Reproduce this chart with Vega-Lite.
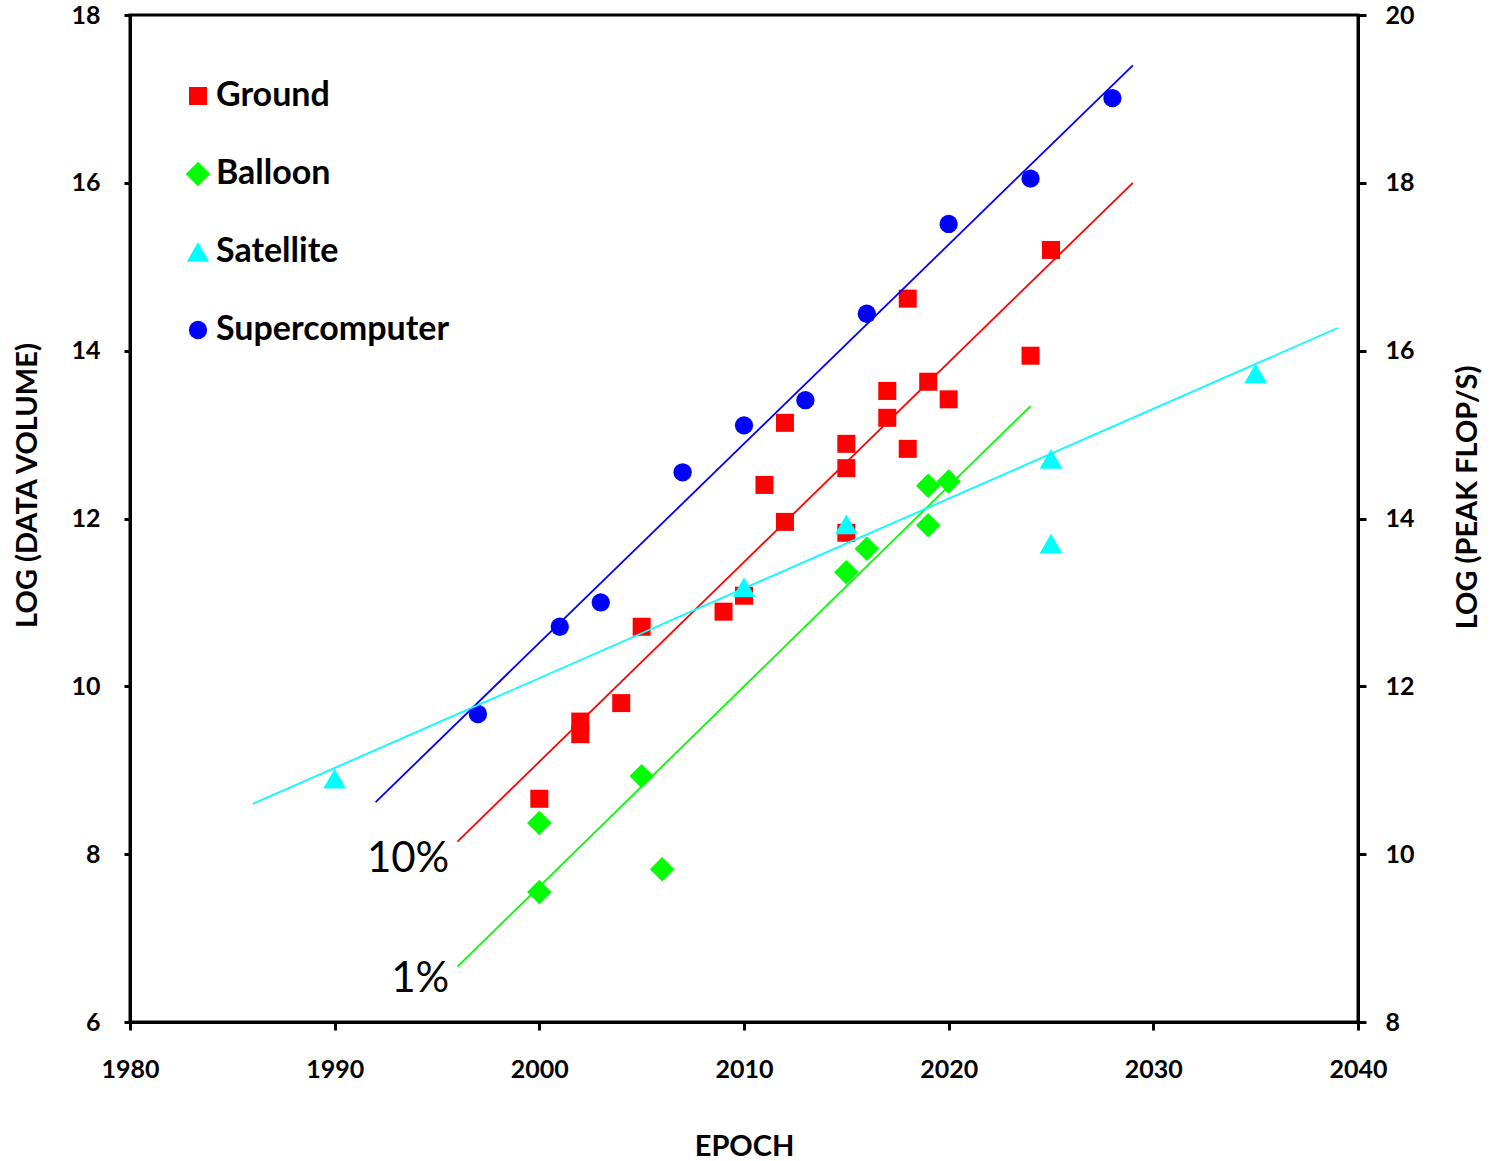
{
  "$schema": "https://vega.github.io/schema/vega-lite/v6.json",
  "autosize": {"type": "none"},
  "width": 1228,
  "height": 1007,
  "padding": {"left": 130, "top": 15, "right": 135, "bottom": 139},
  "background": "white",
  "config": {
    "font": "Lato",
    "view": {"stroke": "black", "strokeWidth": 3},
    "axis": {
      "grid": false,
      "domainColor": "black",
      "domainWidth": 3,
      "tickColor": "black",
      "tickWidth": 3,
      "labelColor": "black",
      "labelFont": "Lato",
      "labelFontWeight": "bold",
      "labelFontSize": 25,
      "labelFlush": false,
      "titleColor": "black",
      "titleFont": "Lato",
      "titleFontWeight": "bold",
      "titleFontSize": 29
    },
    "legend": {
      "labelFont": "Lato",
      "labelFontWeight": "bold",
      "labelFontSize": 34,
      "labelColor": "black",
      "labelLimit": 0
    }
  },
  "datasets": {
    "points": [
      {"series": "Supercomputer", "year": 1997, "value": 9.67},
      {"series": "Supercomputer", "year": 2001, "value": 10.71},
      {"series": "Supercomputer", "year": 2003, "value": 11.0},
      {"series": "Supercomputer", "year": 2007, "value": 12.55},
      {"series": "Supercomputer", "year": 2010, "value": 13.11},
      {"series": "Supercomputer", "year": 2013, "value": 13.41},
      {"series": "Supercomputer", "year": 2016, "value": 14.44},
      {"series": "Supercomputer", "year": 2020, "value": 15.51},
      {"series": "Supercomputer", "year": 2024, "value": 16.05},
      {"series": "Supercomputer", "year": 2028, "value": 17.01},
      {"series": "Ground", "year": 2000, "value": 8.66},
      {"series": "Ground", "year": 2002, "value": 9.58},
      {"series": "Ground", "year": 2002, "value": 9.43},
      {"series": "Ground", "year": 2004, "value": 9.8},
      {"series": "Ground", "year": 2005, "value": 10.71},
      {"series": "Ground", "year": 2009, "value": 10.89},
      {"series": "Ground", "year": 2010, "value": 11.08},
      {"series": "Ground", "year": 2011, "value": 12.4},
      {"series": "Ground", "year": 2012, "value": 11.96},
      {"series": "Ground", "year": 2012, "value": 13.14},
      {"series": "Ground", "year": 2015, "value": 11.83},
      {"series": "Ground", "year": 2015, "value": 12.6},
      {"series": "Ground", "year": 2015, "value": 12.89},
      {"series": "Ground", "year": 2017, "value": 13.2},
      {"series": "Ground", "year": 2017, "value": 13.52},
      {"series": "Ground", "year": 2018, "value": 12.83},
      {"series": "Ground", "year": 2018, "value": 14.62},
      {"series": "Ground", "year": 2019, "value": 13.63},
      {"series": "Ground", "year": 2020, "value": 13.42},
      {"series": "Ground", "year": 2024, "value": 13.94},
      {"series": "Ground", "year": 2025, "value": 15.2},
      {"series": "Balloon", "year": 2000, "value": 8.37},
      {"series": "Balloon", "year": 2000, "value": 7.55},
      {"series": "Balloon", "year": 2005, "value": 8.93},
      {"series": "Balloon", "year": 2006, "value": 7.82},
      {"series": "Balloon", "year": 2015, "value": 11.36},
      {"series": "Balloon", "year": 2016, "value": 11.64},
      {"series": "Balloon", "year": 2019, "value": 12.39},
      {"series": "Balloon", "year": 2019, "value": 11.92},
      {"series": "Balloon", "year": 2020, "value": 12.44},
      {"series": "Satellite", "year": 1990, "value": 8.9},
      {"series": "Satellite", "year": 2010, "value": 11.18},
      {"series": "Satellite", "year": 2015, "value": 11.93},
      {"series": "Satellite", "year": 2025, "value": 12.71},
      {"series": "Satellite", "year": 2025, "value": 11.7},
      {"series": "Satellite", "year": 2035, "value": 13.73}
    ],
    "lines": [
      {"series": "Supercomputer", "year": 1992, "value": 8.62},
      {"series": "Supercomputer", "year": 2029, "value": 17.4},
      {"series": "Ground", "year": 1996, "value": 8.15},
      {"series": "Ground", "year": 2029, "value": 16.0},
      {"series": "Balloon", "year": 1996, "value": 6.66},
      {"series": "Balloon", "year": 2024, "value": 13.34},
      {"series": "Satellite", "year": 1986, "value": 8.6},
      {"series": "Satellite", "year": 2039, "value": 14.27}
    ],
    "labels": [
      {"year": 1995.6, "value": 7.79, "label": "10%"},
      {"year": 1995.6, "value": 6.36, "label": "1%"}
    ]
  },
  "layer": [
    {
      "data": {"name": "points"},
      "mark": {"type": "point", "filled": true, "opacity": 1},
      "encoding": {
        "x": {
          "field": "year", "type": "quantitative",
          "scale": {"domain": [1980, 2040], "nice": false, "zero": false},
          "axis": {
            "title": "EPOCH",
            "values": [1980, 1990, 2000, 2010, 2020, 2030, 2040],
            "format": "d",
            "tickSize": 8,
            "labelPadding": 27,
            "titleY": 133,
            "titleBaseline": "alphabetic"
          }
        },
        "y": {
          "field": "value", "type": "quantitative",
          "scale": {"domain": [6, 18], "nice": false, "zero": false},
          "axis": {
            "orient": "left",
            "title": "LOG (DATA VOLUME)",
            "values": [6, 8, 10, 12, 14, 16, 18],
            "tickSize": 6,
            "labelPadding": 24,
            "titleX": -94,
            "titleY": 470,
            "titleAngle": -90,
            "titleBaseline": "alphabetic"
          }
        },
        "color": {
          "field": "series", "type": "nominal",
          "scale": {"domain": ["Ground", "Balloon", "Satellite", "Supercomputer"], "range": ["#FF0000", "#00FF00", "#00FFFF", "#0000FF"]},
          "legend": {
            "title": null,
            "orient": "none",
            "legendX": 51,
            "legendY": 64,
            "padding": 0,
            "symbolStrokeWidth": 0,
            "labelOffset": 1,
            "rowPadding": 44
          }
        },
        "shape": {
          "field": "series", "type": "nominal",
          "scale": {"domain": ["Ground", "Balloon", "Satellite", "Supercomputer"], "range": ["square", "diamond", "triangle-up", "circle"]},
          "legend": {
            "title": null,
            "orient": "none",
            "legendX": 51,
            "legendY": 64,
            "padding": 0,
            "symbolStrokeWidth": 0,
            "labelOffset": 1,
            "rowPadding": 44
          }
        },
        "size": {
          "field": "series", "type": "nominal",
          "scale": {"type": "ordinal", "domain": ["Ground", "Balloon", "Satellite", "Supercomputer"], "range": [324, 600, 520, 335]},
          "legend": {
            "title": null,
            "orient": "none",
            "legendX": 51,
            "legendY": 64,
            "padding": 0,
            "symbolStrokeWidth": 0,
            "labelOffset": 1,
            "rowPadding": 44
          }
        }
      }
    },
    {
      "data": {"name": "lines"},
      "mark": {"type": "line", "strokeWidth": 1.8},
      "encoding": {
        "x": {
          "field": "year", "type": "quantitative",
          "axis": {
            "title": "EPOCH",
            "values": [1980, 1990, 2000, 2010, 2020, 2030, 2040],
            "format": "d",
            "tickSize": 8,
            "labelPadding": 27,
            "titleY": 133,
            "titleBaseline": "alphabetic"
          }
        },
        "y": {
          "field": "value", "type": "quantitative",
          "axis": {
            "orient": "right",
            "title": "LOG (PEAK FLOP/S)",
            "values": [6, 8, 10, 12, 14, 16, 18],
            "labelExpr": "datum.value + 2",
            "tickSize": 8,
            "labelPadding": 19,
            "titleX": 118,
            "titleY": 482,
            "titleAngle": -90,
            "titleBaseline": "alphabetic"
          }
        },
        "detail": {"field": "series", "type": "nominal"},
        "stroke": {
          "field": "series", "type": "nominal",
          "scale": {"domain": ["Ground", "Balloon", "Satellite", "Supercomputer"], "range": ["#FF0000", "#00FF00", "#00FFFF", "#0000FF"]},
          "legend": null
        }
      }
    },
    {
      "data": {"name": "labels"},
      "mark": {"type": "text", "align": "right", "baseline": "alphabetic", "fontSize": 42, "font": "Lato", "color": "black"},
      "encoding": {
        "x": {
          "field": "year", "type": "quantitative",
          "axis": {
            "title": "EPOCH",
            "values": [1980, 1990, 2000, 2010, 2020, 2030, 2040],
            "format": "d",
            "tickSize": 8,
            "labelPadding": 27,
            "titleY": 133,
            "titleBaseline": "alphabetic"
          }
        },
        "y": {"field": "value", "type": "quantitative", "axis": null},
        "text": {"field": "label", "type": "nominal"}
      }
    }
  ],
  "resolve": {"axis": {"y": "independent"}}
}
